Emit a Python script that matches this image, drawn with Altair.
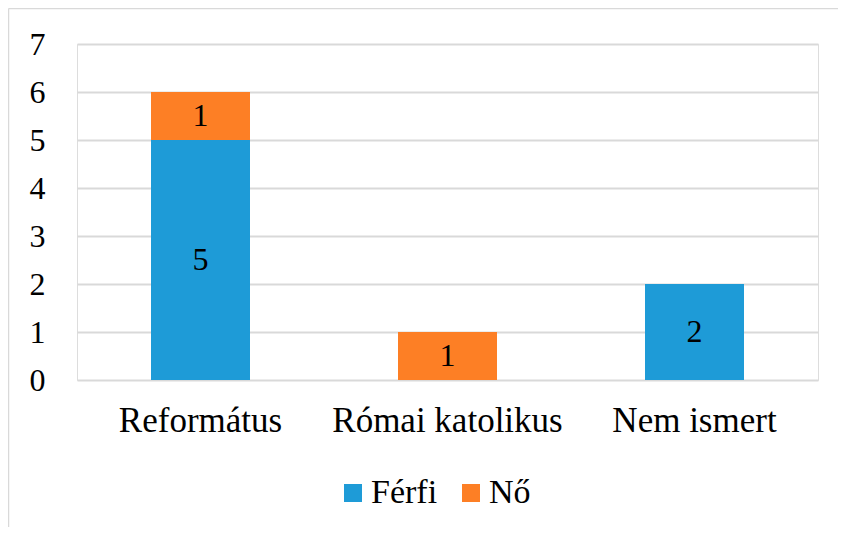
import altair as alt
import pandas as pd

categories = ["Református", "Római katolikus", "Nem ismert"]
series = ["Férfi", "Nő"]
ferfi = [5, 0, 2]
no = [1, 1, 0]
colors = ["#1E9BD7", "#FD7F25"]
y_ticks = [0, 1, 2, 3, 4, 5, 6, 7]

rows = []
for i, c in enumerate(categories):
    rows.append({"cat": c, "nem": series[0], "val": ferfi[i], "ord": 0})
    rows.append({"cat": c, "nem": series[1], "val": no[i], "ord": 1})
df = pd.DataFrame(rows)

FONT = "Liberation Serif"
W, H = 741, 336

x_enc = alt.X(
    "cat:N", sort=categories, title=None,
    scale=alt.Scale(paddingInner=0.6, paddingOuter=0.3),
    axis=alt.Axis(labelAngle=0, labelFont=FONT, labelFontSize=35, labelColor="#000000",
                  labelPadding=23, labelLimit=0, ticks=False, domain=False, grid=False),
)

bars = alt.Chart(df).mark_bar(size=99).encode(
    x=x_enc,
    y=alt.Y("val:Q", stack="zero", title=None,
            scale=alt.Scale(domain=[0, 7], nice=False),
            axis=alt.Axis(values=y_ticks, labelFont=FONT, labelFontSize=32, labelColor="#000000",
                          labelPadding=32, ticks=False, domain=False, grid=True,
                          gridColor="#d9d9d9", gridWidth=1.8)),
    color=alt.Color("nem:N", scale=alt.Scale(domain=series, range=colors),
                    legend=alt.Legend(orient="none", legendX=259, legendY=432, direction="horizontal",
                                      title=None, symbolType="square", symbolSize=324,
                                      symbolStrokeWidth=0, labelFont=FONT, labelFontSize=34,
                                      labelColor="#000000", labelOffset=1, columnPadding=16,
                                      labelLimit=0, padding=0)),
    order=alt.Order("ord:Q", sort="ascending"),
)

labels = alt.Chart(df).transform_filter(
    alt.datum.val > 0
).transform_stack(
    stack="val", groupby=["cat"], as_=["y0", "y1"], sort=[alt.SortField("ord", order="ascending")]
).transform_calculate(
    mid="(datum.y0 + datum.y1) / 2"
).mark_text(font=FONT, fontSize=32, color="#000000", baseline="middle", align="center").encode(
    x=alt.X("cat:N", sort=categories),
    y=alt.Y("mid:Q"),
    text=alt.Text("val:Q"),
)

frame_df = pd.DataFrame({"a": [0]})
frame_top = alt.Chart(frame_df).mark_rule(stroke="#d9d9d9", strokeWidth=1.5).encode(
    x=alt.value(-68.5), x2=alt.value(790), y=alt.value(-35.5)
)
frame_left = alt.Chart(frame_df).mark_rule(stroke="#d9d9d9", strokeWidth=1.5).encode(
    x=alt.value(-68.5), y=alt.value(-35.5), y2=alt.value(560)
)

chart = alt.layer(frame_top, frame_left, bars, labels).properties(
    width=W, height=H,
    padding={"left": 69, "top": 36, "right": 20, "bottom": 147},
    autosize=alt.AutoSizeParams(type="none"),
).configure_view(stroke=None).configure(background="white")

chart.save("out.html", embed_options={"renderer": "svg", "actions": False})
